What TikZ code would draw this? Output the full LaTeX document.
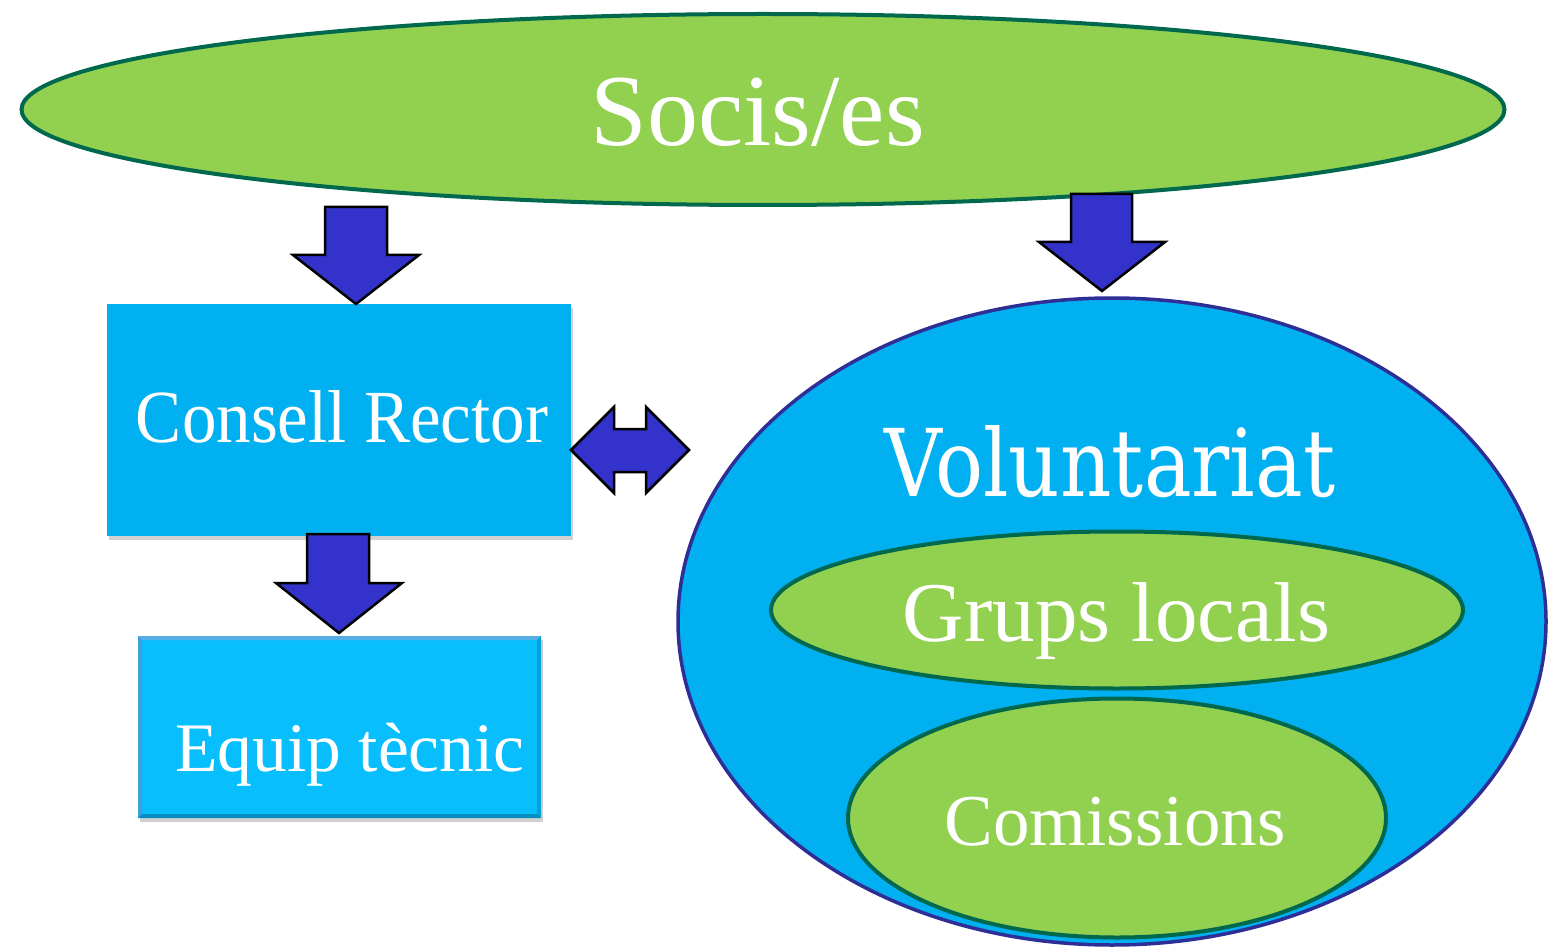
\documentclass[tikz,border=0pt]{standalone}
\usepackage{fontspec}
\setmainfont{Liberation Serif}
\newfontfamily\volfont{DejaVu Serif}
\usetikzlibrary{shapes.geometric,shadows}
\definecolor{lgreen}{HTML}{92D050}
\definecolor{dgreen}{HTML}{00684C}
\definecolor{cblue}{HTML}{00B0F0}
\definecolor{eblue}{HTML}{08BEFD}
\definecolor{vborder}{HTML}{2E2E96}
\definecolor{arrowblue}{HTML}{3333CC}
\tikzset{
  greenell/.style={ellipse, draw=dgreen, line width=4pt, fill=lgreen, inner sep=0pt, outer sep=0pt},
  blockarrow/.style={fill=arrowblue, draw=black, line width=2.5pt, line join=miter},
  wtext/.style={anchor=base, inner sep=0pt, outer sep=0pt, text=white},
  boxshadow/.style={drop shadow={shadow xshift=2pt, shadow yshift=-4pt, opacity=0.3, fill=black!60}},
}
\begin{document}
\begin{tikzpicture}[x=1pt, y=-1pt]
\useasboundingbox (0,0) rectangle (1549,949);

% Socis/es
\node[greenell, minimum width=1483pt, minimum height=191pt] (socis) at (763,109.5) {};
\node[wtext, font=\fontsize{102}{102}\selectfont] (tsocis) at (757.5,146) {Socis/es};

% Voluntariat
\node[ellipse, draw=vborder, line width=3.5pt, fill=cblue, inner sep=0pt, outer sep=0pt,
      minimum width=868pt, minimum height=647pt] (vol) at (1112,621.5) {};
\node[wtext] (tvol) at (1110,496) {\resizebox{450pt}{71pt}{\volfont Voluntariat}};
\node[greenell, minimum width=692pt, minimum height=157pt] (grups) at (1117,610) {};
\node[wtext, font=\fontsize{85}{85}\selectfont] (tgrups) at (1116.5,641) {Grups locals};
\node[greenell, minimum width=538pt, minimum height=239pt] (comis) at (1117,818) {};
\node[wtext, font=\fontsize{73}{73}\selectfont] (tcomis) at (1115,845) {Comissions};

% Consell Rector
\node[rectangle, fill=cblue, inner sep=0pt, outer sep=0pt, boxshadow,
      minimum width=464pt, minimum height=232pt] (consell) at (339,420) {};
\node[wtext, font=\fontsize{75}{75}\selectfont] (tconsell) at (342,442) {\scalebox{0.92}[1]{Consell Rector}};

% Equip tecnic
\node[rectangle, fill=eblue, inner sep=0pt, outer sep=0pt, boxshadow,
      minimum width=403pt, minimum height=182pt] (equip) at (339.5,727) {};
\fill[color=cyan!25!white!40!eblue] (equip.north west) -- (equip.north east) -- ([xshift=-4pt,yshift=-4pt]equip.north east) -- ([xshift=4pt,yshift=-4pt]equip.north west) -- cycle;
\fill[color=cyan!10!white!20!eblue] (equip.north west) -- ([xshift=4pt,yshift=-4pt]equip.north west) -- ([xshift=4pt,yshift=4pt]equip.south west) -- (equip.south west) -- cycle;
\fill[color=eblue!85!black] (equip.north east) -- (equip.south east) -- ([xshift=-4pt,yshift=4pt]equip.south east) -- ([xshift=-4pt,yshift=-4pt]equip.north east) -- cycle;
\fill[color=eblue!75!black] (equip.south west) -- (equip.south east) -- ([xshift=-4pt,yshift=4pt]equip.south east) -- ([xshift=4pt,yshift=4pt]equip.south west) -- cycle;
\node[wtext, font=\fontsize{69.5}{69.5}\selectfont] (tequip) at (350,771) {Equip tècnic};

% Block arrows
\draw[blockarrow] (325,207) -- (387,207) -- (387,255) -- (419,255) -- (consell.north -| 356,0) -- (293,255) -- (325,255) -- cycle;
\draw[blockarrow] (307,534) -- (369,534) -- (369,583) -- (402,583) -- (339,633) -- (276,583) -- (307,583) -- cycle;
\draw[blockarrow] (1071,194) -- (1132,194) -- (1132,242) -- (1165,242) -- (1102,291) -- (1039,242) -- (1071,242) -- cycle;
\draw[blockarrow] (consell.east |- 0,450) -- (614,407) -- (614,429) -- (646,429) -- (646,407) -- (689,450)
   -- (646,493) -- (646,472) -- (614,472) -- (614,493) -- cycle;
\end{tikzpicture}
\end{document}
